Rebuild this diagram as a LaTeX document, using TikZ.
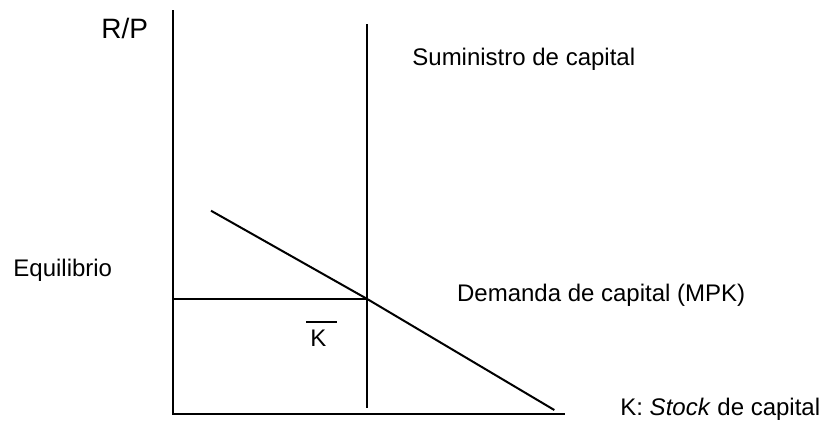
\documentclass[tikz,border=0pt]{standalone}
\usepackage{fontspec}
\setmainfont{Liberation Sans}
\usetikzlibrary{calc}
\tikzset{
  axis/.style={black,line width=1.1pt},
  curve/.style={black,line width=1.0pt},
  guide/.style={black,line width=1.0pt},
  label/.style={anchor=base west,inner sep=0pt,text=black,font=\fontsize{12}{14}\selectfont},
  biglabel/.style={label,font=\fontsize{14}{17}\selectfont},
}
\begin{document}
\begin{tikzpicture}[x=0.5pt,y=-0.5pt]
    \useasboundingbox (0,0) rectangle (821,424);
    % axes
    \coordinate (orig) at (172.7,414.3);
    \coordinate (ytop) at (172.7,10);
    \coordinate (xend) at (565,414.3);
    \draw[axis] (ytop) -- (orig) -- (xend);
    \node[biglabel] (rp) at (101,38) {R/P};
    \node[label] (kaxis) at (620,415) {K: \textit{Stock} de capital};

    % fixed supply of capital
    \coordinate (stop) at (366.7,24);
    \coordinate (sbot) at (366.7,408.3);
    \draw[curve] (stop) -- (sbot);
    \node[label] (supply) at (412,65) {Suministro de capital};

    % demand (MPK), crossing the supply at the equilibrium
    \coordinate (eq) at (366.7,298.7);
    \coordinate (dtop) at (211,210.7);
    \coordinate (dbot) at (554.3,410);
    \draw[curve] (dtop) -- (eq) -- (dbot);
    \node[label] (demand) at (456.7,301.7) {Demanda de capital (MPK)};

    % equilibrium rental rate and K bar
    \coordinate (eqy) at (orig |- eq);
    \draw[guide] (eqy) -- (eq);
    \node[label] (equil) at (13,276.7) {Equilibrio};
    \node[label] (kbar) at (310,346.7) {K};
    \draw[guide] ($(kbar.base west)+(-4,-25)$) -- ++(31,0);
  \end{tikzpicture}
\end{document}
